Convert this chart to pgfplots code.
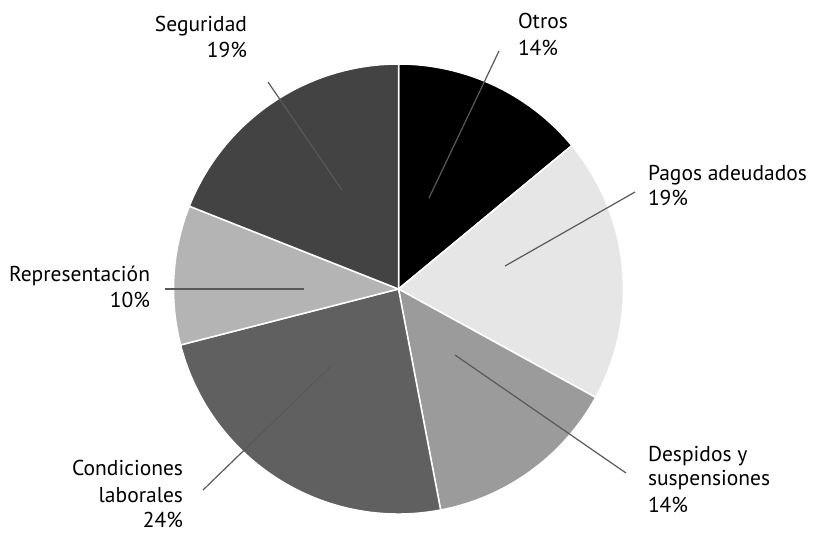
\documentclass[border=0pt]{standalone}
\usepackage{pgfplots}
\pgfplotsset{compat=1.18}
\usepackage{fontspec}
\setmainfont{PT Sans}
\definecolor{cOtros}{HTML}{000000}
\definecolor{cPagos}{HTML}{E6E6E6}
\definecolor{cDesp}{HTML}{9B9B9B}
\definecolor{cCond}{HTML}{606060}
\definecolor{cRep}{HTML}{B4B4B4}
\definecolor{cSeg}{HTML}{434343}
\definecolor{lead}{HTML}{595959}
\tikzset{lbl/.style={font=\fontsize{21.5bp}{25bp}\selectfont, inner sep=0pt, outer sep=0pt, text=black}}
% slice: start percent, end percent (cumulative, clockwise from top), colour
\newcommand\slice[3]{%
  \fill[#3, draw=white, line width=1.5bp, line join=round]
    (axis cs:398.5,289) -- ++({90-3.6*#1}:225bp)
    arc[start angle={90-3.6*#1}, end angle={90-3.6*#2}, radius=225bp] -- cycle;}
\begin{document}
\begin{tikzpicture}
\begin{axis}[
  width=813bp, height=529bp, scale only axis,
  xmin=0, xmax=813, ymin=0, ymax=529, y dir=reverse,
  hide axis, clip=false,
]
\path (rel axis cs:0,0) rectangle (rel axis cs:1,1);
% shares (%): Otros 14, Pagos adeudados 19, Despidos y suspensiones 14,
% Condiciones laborales 24, Representacion 10, Seguridad 19
\slice{0}{14}{cOtros}
\slice{14}{33}{cPagos}
\slice{33}{47}{cDesp}
\slice{47}{71}{cCond}
\slice{71}{81}{cRep}
\slice{81}{100}{cSeg}
% leader lines
\draw[lead, line width=1.2bp] (axis cs:429,198) -- (axis cs:499,51);
\draw[lead, line width=1.2bp] (axis cs:505,266) -- (axis cs:635,192);
\draw[lead, line width=1.2bp] (axis cs:455,355) -- (axis cs:626,473);
\draw[lead, line width=1.2bp] (axis cs:330,367) -- (axis cs:203,490);
\draw[lead, line width=1.2bp] (axis cs:304,289) -- (axis cs:165,289);
\draw[lead, line width=1.2bp] (axis cs:342,190) -- (axis cs:268,82);
% labels
\node[lbl, anchor=base west] at (axis cs:518,28) {Otros};
\node[lbl, anchor=base west] at (axis cs:518,55) {14\%};
\node[lbl, anchor=base west] at (axis cs:648,180) {Pagos adeudados};
\node[lbl, anchor=base west] at (axis cs:648,205) {19\%};
\node[lbl, anchor=base west] at (axis cs:648,461) {Despidos y};
\node[lbl, anchor=base west] at (axis cs:648,485) {suspensiones};
\node[lbl, anchor=base west] at (axis cs:648,512) {14\%};
\node[lbl, anchor=base east] at (axis cs:183,475) {Condiciones};
\node[lbl, anchor=base east] at (axis cs:183,502) {laborales};
\node[lbl, anchor=base east] at (axis cs:183,527) {24\%};
\node[lbl, anchor=base east] at (axis cs:150,281) {Representación};
\node[lbl, anchor=base east] at (axis cs:150,307) {10\%};
\node[lbl, anchor=base east] at (axis cs:247,31) {Seguridad};
\node[lbl, anchor=base east] at (axis cs:247,57) {19\%};
\end{axis}
\end{tikzpicture}
\end{document}
